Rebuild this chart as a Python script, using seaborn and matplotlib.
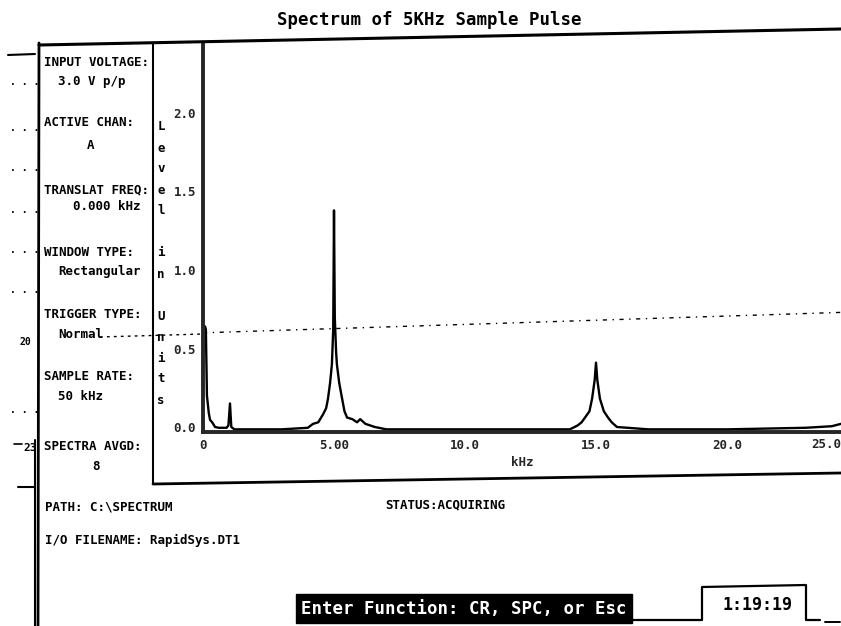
import numpy as np
import pandas as pd
import matplotlib
matplotlib.use("Agg")
import matplotlib.pyplot as plt
import seaborn as sns
from matplotlib.lines import Line2D
from matplotlib.patches import Rectangle

# ---------------- data ----------------
title = "Spectrum of 5KHz Sample Pulse"
freq_khz = [0.0, 0.08, 0.11, 0.15, 0.22, 0.27, 0.35, 0.46, 0.6, 0.9, 0.97, 1.03, 1.08, 1.2,
            2.0, 3.0, 4.0, 4.2, 4.4, 4.58, 4.7, 4.77, 4.85, 4.92, 4.97, 5.0, 5.03, 5.08,
            5.11, 5.2, 5.31, 5.4, 5.5, 5.7, 5.88, 6.0, 6.2, 6.56, 7.0, 9.0, 11.0, 13.0,
            14.0, 14.3, 14.45, 14.58, 14.75, 14.85, 14.95, 15.0, 15.05, 15.15, 15.3,
            15.46, 15.6, 15.8, 17.0, 20.0, 23.0, 24.0, 24.35]
level_units = [0.64, 0.64, 0.62, 0.2, 0.09, 0.045, 0.03, 0.0, -0.005, -0.005, 0.01, 0.15, 0.0, -0.015,
               -0.015, -0.015, -0.005, 0.02, 0.03, 0.08, 0.12, 0.18, 0.28, 0.4, 0.62, 1.38, 0.7, 0.48,
               0.4, 0.28, 0.18, 0.1, 0.06, 0.05, 0.03, 0.05, 0.02, 0.0, -0.015, -0.015, -0.015, -0.015,
               -0.015, 0.01, 0.03, 0.06, 0.1, 0.18, 0.3, 0.41, 0.3, 0.18, 0.1,
               0.06, 0.03, 0.0, -0.015, -0.015, -0.005, 0.005, 0.02]
trigger_freq = [0.0, 24.35]
trigger_level = [0.60, 0.73]
x_ticks = [0, 5, 10, 15, 20]
x_tick_labels = ["0", "5.00", "10.0", "15.0", "20.0"]
x_extra_label = "25.0"
y_ticks = [0.0, 0.5, 1.0, 1.5, 2.0]
y_tick_labels = ["0.0", "0.5", "1.0", "1.5", "2.0"]
x_label = "kHz"
y_label_letters = ["L", "e", "v", "e", "l", "", "i", "n", "", "U", "n", "i", "t", "s"]
panel_labels = ["INPUT VOLTAGE:", "ACTIVE CHAN:", "TRANSLAT FREQ:", "WINDOW TYPE:",
                "TRIGGER TYPE:", "SAMPLE RATE:", "SPECTRA AVGD:"]
panel_values = ["3.0 V p/p", "A", "0.000 kHz", "Rectangular", "Normal", "50 kHz", "8"]
path_text = "PATH: C:\\SPECTRUM"
file_text = "I/O FILENAME: RapidSys.DT1"
status_text = "STATUS:ACQUIRING"
prompt_text = "Enter Function: CR, SPC, or Esc"
clock_text = "1:19:19"

# ---------------- style ----------------
W, H = 841, 626
sns.set_style("white")
plt.rcParams['font.family'] = ['DejaVu Sans Mono', 'DejaVu Sans']
plt.rcParams['font.weight'] = 'bold'

fig = plt.figure(figsize=(W / 100, H / 100), dpi=100)


def fx(x):
    return x / W


def fy(y):
    return 1 - y / H


def fline(xs, ys, lw=1.5, ls='-'):
    fig.add_artist(Line2D([fx(v) for v in xs], [fy(v) for v in ys],
                          transform=fig.transFigure, color='black', lw=lw, linestyle=ls))


def ftext(x, y, s, size=9, ha='left', va='center', color='black', **kw):
    fig.text(fx(x), fy(y), s, fontsize=size, ha=ha, va=va, color=color,
             fontweight='bold', **kw)


# ---------------- plot axes ----------------
ax = fig.add_axes([fx(203), fy(432), fx(841) - fx(203), fy(43) - fy(432)])
df = pd.DataFrame({"kHz": freq_khz, "Level": level_units})
sns.lineplot(data=df, x="kHz", y="Level", color="black", linewidth=1.7,
             estimator=None, sort=False, ax=ax)
ax.plot(trigger_freq, trigger_level, color='black', lw=1.0, linestyle=(0, (3, 4, 1, 4)))

ax.set_xlim(0, (841 - 203) / 26.2)
ax.set_ylim(-(432 - 427) / 157, (427 - 43) / 157)
ax.set_xticks(x_ticks)
ax.set_xticklabels(x_tick_labels)
ax.set_yticks(y_ticks)
ax.set_yticklabels(y_tick_labels)
ax.tick_params(length=0, labelsize=9, pad=5)
ax.set_xlabel(x_label, fontsize=9, fontweight='bold', labelpad=3)
ax.set_ylabel("")
# label of the 25 kHz tick sits at the very right edge of the screen
ax.text(1.0, -0.016, x_extra_label, transform=ax.transAxes,
        ha='right', va='top', fontsize=9, fontweight='bold', clip_on=False)
ax.spines['top'].set_visible(False)
ax.spines['right'].set_visible(False)
ax.spines['left'].set_linewidth(2.8)
ax.spines['bottom'].set_linewidth(2.8)
ax.patch.set_alpha(0)

# ---------------- title & frame ----------------
ftext(429, 20, title, size=12.5, ha='center')
fline([39, 841], [45, 29], lw=2.2)
fline([8, 35], [55, 54], lw=1.5)
fline([39, 38], [43, 626], lw=2.0)
fline([35, 35], [440, 626], lw=1.5)
fline([153, 153], [43, 484], lw=1.5)
fline([153, 841], [484, 473], lw=2.0)
fline([18, 35], [487, 487], lw=1.5)
fline([14, 22], [444, 444], lw=1.2)
fline([100, 203], [337, 334], lw=1.0, ls=(0, (2, 3)))

# left margin ruler dots
for yy in [82, 128, 168, 210, 250, 290, 410]:
    ftext(10, yy, ". . .", size=7)
ftext(20, 342, "20", size=7)
ftext(23, 448, "23", size=8)

# ---------------- left info panel ----------------
label_y = [63, 122, 190, 253, 314, 376, 446]
value_pos = [(58, 82), (87, 145), (73, 207), (58, 272), (58, 335), (58, 396), (92, 467)]
for lab, yy in zip(panel_labels, label_y):
    ftext(44, yy, lab, size=9)
for val, (xx, yy) in zip(panel_values, value_pos):
    ftext(xx, yy, val, size=9)

# stacked y-axis label
for i, ch in enumerate(y_label_letters):
    if ch:
        ftext(161, 127 + 21 * i, ch, size=9, ha='center')

# ---------------- bottom area ----------------
ftext(45, 507, path_text, size=9)
ftext(45, 540, file_text, size=9)
ftext(385, 505, status_text, size=9)

fig.add_artist(Rectangle((fx(296), fy(623)), fx(632) - fx(296), fy(594) - fy(623),
                         transform=fig.transFigure, facecolor='black', edgecolor='black'))
ftext(464, 609, prompt_text, size=12.5, ha='center', color='white')

fline([632, 702, 702, 806, 806, 820], [620, 620, 587, 585, 620, 620], lw=1.6)
fline([825, 840], [622, 622], lw=1.4)
ftext(757, 605, clock_text, size=12, ha='center')

fig.savefig("out.png", dpi=100, facecolor='white')
